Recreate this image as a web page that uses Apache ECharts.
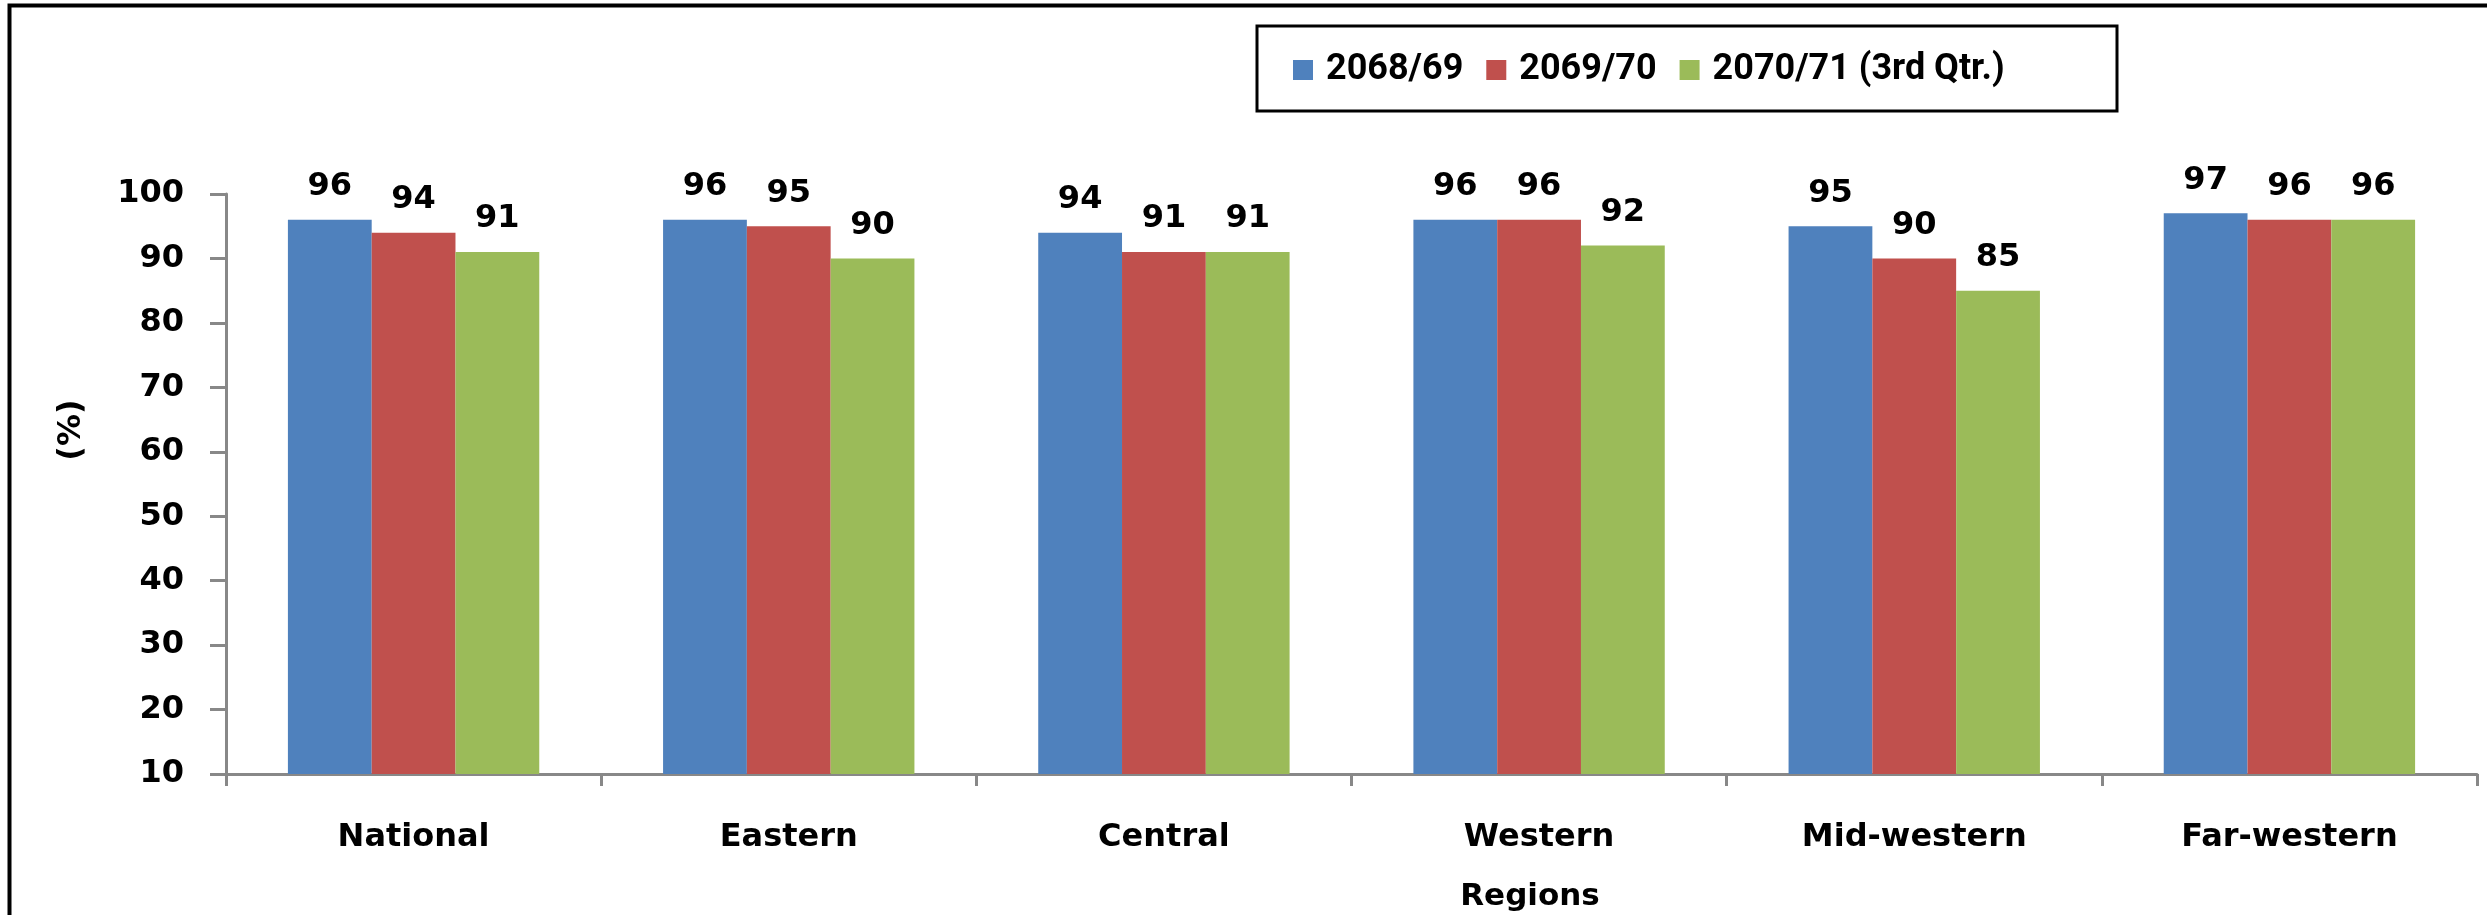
<!DOCTYPE html>
<html>
<head>
<meta charset="utf-8">
<script src="https://cdn.jsdelivr.net/npm/echarts@6/dist/echarts.min.js"></script>
<style>
html,body{margin:0;padding:0;background:#fff;}
#chart{width:2487px;height:915px;}
</style>
</head>
<body>
<div id="chart"></div>
<script>
const categories = ['National', 'Eastern', 'Central', 'Western', 'Mid-western', 'Far-western'];
const seriesNames = ['2068/69', '2069/70', '2070/71 (3rd Qtr.)'];
const values2068 = [96, 96, 94, 96, 95, 97];
const values2069 = [94, 95, 91, 96, 90, 96];
const values2070 = [91, 90, 91, 92, 85, 96];
const colors = ['#4F81BD', '#C0504D', '#9BBB59'];
const yMin = 10, yMax = 100, yInterval = 10;

const chart = echarts.init(document.getElementById('chart'));
const boldFont = 'DejaVu Sans';
const labelStyle = {
  show: true, position: 'top', distance: 17,
  fontFamily: boldFont, fontWeight: 'bold', fontSize: 32, color: '#000'
};
const allValues = [values2068, values2069, values2070];
chart.setOption({
  animation: false,
  backgroundColor: '#fff',
  color: colors,
  legend: {
    left: 1256, top: 28,
    orient: 'horizontal',
    itemWidth: 20, itemHeight: 20, itemGap: 23,
    padding: [24, 20, 24, 37],
    icon: 'rect',
    textStyle: { fontFamily: 'Roboto', fontWeight: 'bold', fontSize: 36, color: '#000', padding: [0, 0, 0, 8] },
    data: seriesNames
  },
  grid: { left: 226, right: 10, top: 194, bottom: 141, containLabel: false, outerBoundsMode: 'none' },
  xAxis: {
    type: 'category',
    data: categories,
    axisLine: { lineStyle: { color: '#888', width: 3 } },
    axisTick: { show: true, length: 12, lineStyle: { color: '#888', width: 3 } },
    axisLabel: { margin: 48, fontFamily: boldFont, fontWeight: 'bold', fontSize: 32, color: '#000' },
    splitLine: { show: false }
  },
  yAxis: {
    type: 'value',
    min: yMin, max: yMax, interval: yInterval,
    axisLine: { show: true, lineStyle: { color: '#888', width: 3 } },
    axisTick: { show: true, length: 16, lineStyle: { color: '#888', width: 3 } },
    axisLabel: { margin: 42, fontFamily: boldFont, fontWeight: 'bold', fontSize: 32, color: '#000' },
    splitLine: { show: false }
  },
  series: seriesNames.map((name, i) => ({
    name: name,
    type: 'bar',
    data: allValues[i],
    barGap: '0%',
    barCategoryGap: '33%',
    itemStyle: { color: colors[i] },
    label: labelStyle
  })),
  graphic: [
    {
      type: 'rect', silent: true,
      shape: { x: 9.5, y: 5.5, width: 2600, height: 1000 },
      style: { fill: 'none', stroke: '#000', lineWidth: 4 }
    },
    {
      type: 'rect', silent: true,
      shape: { x: 1257, y: 26, width: 860, height: 85 },
      style: { fill: 'none', stroke: '#000', lineWidth: 3 }
    },
    {
      type: 'text', silent: true,
      x: 72, y: 430, rotation: Math.PI / 2,
      style: { text: '(%)', fontFamily: boldFont, fontWeight: 'bold', fontSize: 32, fill: '#000', align: 'center', verticalAlign: 'middle' }
    },
    {
      type: 'text', silent: true,
      x: 1530, y: 897,
      style: { text: 'Regions', fontFamily: boldFont, fontWeight: 'bold', fontSize: 31, fill: '#000', align: 'center', verticalAlign: 'middle' }
    }
  ]
});
</script>
</body>
</html>
